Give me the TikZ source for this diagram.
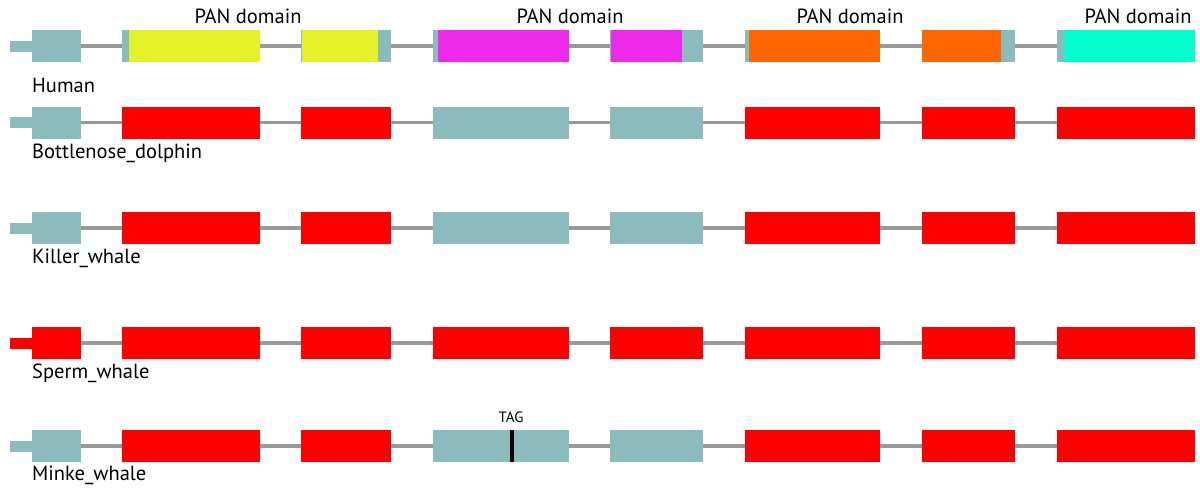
\documentclass[tikz,border=0pt]{standalone}
\usepackage{fontspec}
\setmainfont{PT Sans}
\usetikzlibrary{calc}
\definecolor{utrteal}{RGB}{139,188,189}
\definecolor{panyellow}{RGB}{229,242,42}
\definecolor{panmagenta}{RGB}{238,42,234}
\definecolor{panorange}{RGB}{255,102,0}
\definecolor{pancyan}{RGB}{0,255,204}
\definecolor{intgray}{RGB}{153,153,153}
\tikzset{
  exon/.style={rectangle, inner sep=0pt, outer sep=0pt, minimum height=32pt, anchor=west},
  utr/.style={rectangle, inner sep=0pt, outer sep=0pt, minimum height=11pt, minimum width=22pt, anchor=east},
  intron/.style={draw=intgray, line width=3.5pt},
  species/.style={anchor=west, inner sep=0pt, font=\fontsize{20.5}{23}\selectfont},
  panlabel/.style={inner sep=0pt, font=\fontsize{20.5}{23}\selectfont}
}
\newcommand{\exonlist}{32/81, 122/260, 301/391, 433/569, 610/703, 745/880, 922/1015, 1057/1195}

% one gene model: prefix, row y, colour of each of the eight exons
\newcommand{\genemodel}[3]{
  \foreach \xa/\xb [count=\i] in \exonlist {
    \pgfmathsetmacro{\fc}{{#3}[\i-1]}
    \node[exon, fill=\fc, minimum width={\xb pt-\xa pt}] (#1\i) at (\xa,#2) {};
  }
  \foreach \i [evaluate=\i as \j using int(\i+1)] in {1,...,7}
    \draw[intron] (#1\i.east) -- (#1\j.west);
}

\begin{document}
\begin{tikzpicture}[x=1pt,y=-1pt]
\useasboundingbox (0,0) rectangle (1200,490);

% Human
\genemodel{h}{46}{"utrteal","utrteal","utrteal","utrteal","utrteal","utrteal","utrteal","utrteal"}
\node[utr, fill=utrteal] (hutr) at (h1.west) {};
\fill[panyellow]  (129,30) rectangle (260,62);
\fill[panyellow]  (302,30) rectangle (378,62);
\fill[panmagenta] (438,30) rectangle (569,62);
\fill[panmagenta] (611,30) rectangle (682,62);
\fill[panorange]  (749,30) rectangle (880,62);
\fill[panorange]  (922,30) rectangle (1001,62);
\fill[pancyan]    (1064,30) rectangle (1195,62);
\node[panlabel] (pan1) at (248,16) {PAN domain};
\node[panlabel] (pan2) at (570,16) {PAN domain};
\node[panlabel] (pan3) at (850,16) {PAN domain};
\node[panlabel] (pan4) at (1138,16) {PAN domain};
\node[species] (lhuman) at (32,85) {Human};

% Bottlenose dolphin
\genemodel{b}{122.5}{"utrteal","red","red","utrteal","utrteal","red","red","red"}
\node[utr, fill=utrteal] (butr) at (b1.west) {};
\node[species] (lbottle) at (32,153) {Bottlenose\_dolphin};

% Killer whale
\genemodel{k}{228}{"utrteal","red","red","utrteal","utrteal","red","red","red"}
\node[utr, fill=utrteal] (kutr) at (k1.west) {};
\node[species] (lkiller) at (32,258) {Killer\_whale};

% Sperm whale
\genemodel{s}{343}{"red","red","red","red","red","red","red","red"}
\node[utr, fill=red] (sutr) at (s1.west) {};
\node[species] (lsperm) at (32,373) {Sperm\_whale};

% Minke whale, premature stop in exon 4
\genemodel{m}{446}{"utrteal","red","red","utrteal","utrteal","red","red","red"}
\node[utr, fill=utrteal] (mutr) at (m1.west) {};
\node[rectangle, fill=black, inner sep=0pt, minimum width=4pt, minimum height=32pt] (stop) at (512,446) {};
\node[inner sep=0pt, font=\fontsize{15}{17}\selectfont] (tag) at (511,417) {TAG};
\node[species] (lminke) at (32,475) {Minke\_whale};
\end{tikzpicture}
\end{document}
